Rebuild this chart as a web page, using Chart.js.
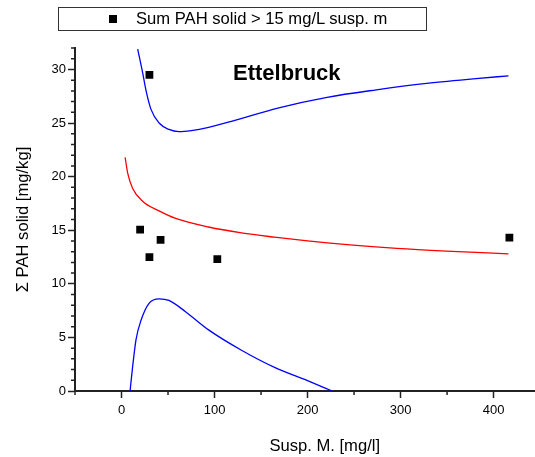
<!DOCTYPE html>
<html>
<head>
<meta charset="utf-8">
<script src="https://cdn.jsdelivr.net/npm/chart.js@4/dist/chart.umd.min.js"></script>
<style>
  html, body { margin: 0; padding: 0; background: #fff; overflow: hidden; }
  #wrap { position: relative; width: 535px; height: 457px; overflow: hidden; }
  #chart { position: absolute; left: 0; top: 0; }
  .legend {
    position: absolute; left: 58px; top: 7px; width: 367px; height: 22px;
    border: 1px solid #333; font: 16.6px "Liberation Sans", Arial, sans-serif; color: #000;
  }
  .legend .mark { position: absolute; left: 50px; top: 7px; width: 8px; height: 8px; background: #000; }
  .legend .txt { position: absolute; left: 77px; top: 2px; white-space: nowrap; line-height: 18px; }
  .site {
    position: absolute; left: 233px; top: 60px; line-height: 22px;
    font: bold 22px "Liberation Sans", Arial, sans-serif; color: #000; white-space: nowrap;
  }
</style>
</head>
<body>
<div id="wrap">
  <canvas id="chart" width="580" height="457"></canvas>
  <div class="legend"><span class="mark"></span><span class="txt">Sum PAH solid &gt; 15 mg/L susp. m</span></div>
  <div class="site">Ettelbruck</div>
</div>
<script>
const FONT = '"Liberation Sans", Arial, sans-serif';

// measured samples
const sampleX = [30, 20, 30, 42, 103, 417];
const sampleY = [29.5, 15.05, 12.5, 14.1, 12.3, 14.3];

// fitted curve (red)
const fitX = [3.9, 6.7, 12, 22.7, 40.4, 58.2, 93.6, 129, 164.5, 200, 242.5, 296, 349, 416];
const fitY = [21.8, 20.3, 18.9, 17.7, 16.8, 16.1, 15.3, 14.75, 14.35, 14.0, 13.65, 13.3, 13.05, 12.8];

// upper band (blue)
const upperX = [17.4, 22.7, 26.2, 31.6, 40.4, 51, 61.7, 75, 93.6, 120, 168, 221, 274, 328, 381, 416];
const upperY = [31.9, 29.7, 28.1, 26.3, 25.0, 24.4, 24.2, 24.3, 24.6, 25.2, 26.4, 27.4, 28.1, 28.7, 29.15, 29.4];

// lower band (blue)
const lowerX = [9.2, 12, 15.6, 21, 29.8, 40.4, 51, 68.8, 93.6, 129, 164.5, 200, 226.6];
const lowerY = [0, 2.3, 4.8, 6.6, 8.2, 8.6, 8.45, 7.4, 5.7, 3.8, 2.2, 0.96, 0];

const xTicks = [0, 100, 200, 300, 400];
const xMinor = [-50, 50, 150, 250, 350, 450];
const yTicks = [0, 5, 10, 15, 20, 25, 30];
const yMinor = [1, 2, 3, 4, 6, 7, 8, 9, 11, 12, 13, 14, 16, 17, 18, 19, 21, 22, 23, 24, 26, 27, 28, 29, 31, 32];

const toPoints = (xs, ys) => xs.map((x, i) => ({ x, y: ys[i] }));

const curve = (data, color) => ({
  data,
  showLine: true,
  borderColor: color,
  borderWidth: 1.3,
  pointRadius: 0,
  cubicInterpolationMode: 'monotone',
  order: 2,
});

const minorTicks = {
  id: 'minorTicks',
  afterDraw(chart) {
    const { ctx, scales: { x, y } } = chart;
    ctx.save();
    ctx.strokeStyle = '#222';
    ctx.lineWidth = 1.5;
    ctx.beginPath();
    xMinor.forEach((v) => {
      const px = x.getPixelForValue(v);
      ctx.moveTo(px, y.bottom);
      ctx.lineTo(px, y.bottom + 4);
    });
    yMinor.forEach((v) => {
      const py = y.getPixelForValue(v);
      ctx.moveTo(x.left, py);
      ctx.lineTo(x.left - 4, py);
    });
    ctx.stroke();
    ctx.restore();
  },
};

new Chart(document.getElementById('chart'), {
  type: 'scatter',
  data: {
    datasets: [
      {
        data: toPoints(sampleX, sampleY),
        pointStyle: 'rect',
        pointRadius: 5.5,
        backgroundColor: '#000',
        borderColor: '#000',
        borderWidth: 0,
        order: 1,
      },
      curve(toPoints(fitX, fitY), '#ff0000'),
      curve(toPoints(upperX, upperY), '#0000ff'),
      curve(toPoints(lowerX, lowerY), '#0000ff'),
    ],
  },
  options: {
    responsive: false,
    animation: false,
    layout: { padding: { top: 48, left: 0, right: 0, bottom: 0 } },
    plugins: { legend: { display: false }, tooltip: { enabled: false } },
    scales: {
      x: {
        type: 'linear',
        min: -50,
        max: 487,
        afterBuildTicks: (s) => { s.ticks = xTicks.map((value) => ({ value })); },
        afterFit: (s) => { s.height = 66; },
        grid: { drawOnChartArea: false, drawTicks: true, tickLength: 7, tickWidth: 1.5, tickColor: '#222' },
        border: { color: '#222', width: 2 },
        ticks: { font: { family: FONT, size: 13 }, color: '#000', padding: 5, maxRotation: 0 },
        title: { display: true, text: 'Susp. M. [mg/l]', color: '#000', font: { family: FONT, size: 16.6 }, padding: { bottom: 1 } },
      },
      y: {
        type: 'linear',
        min: 0,
        max: 32,
        afterBuildTicks: (s) => { s.ticks = yTicks.map((value) => ({ value })); },
        afterFit: (s) => { s.width = 75; },
        grid: { drawOnChartArea: false, drawTicks: true, tickLength: 7, tickWidth: 1.5, tickColor: '#222' },
        border: { color: '#222', width: 2 },
        ticks: { font: { family: FONT, size: 13 }, color: '#000', padding: 2 },
        title: { display: true, text: 'Σ PAH solid [mg/kg]', color: '#000', font: { family: FONT, size: 16.6 }, padding: { top: 13 } },
      },
    },
  },
  plugins: [minorTicks],
});
</script>
</body>
</html>
